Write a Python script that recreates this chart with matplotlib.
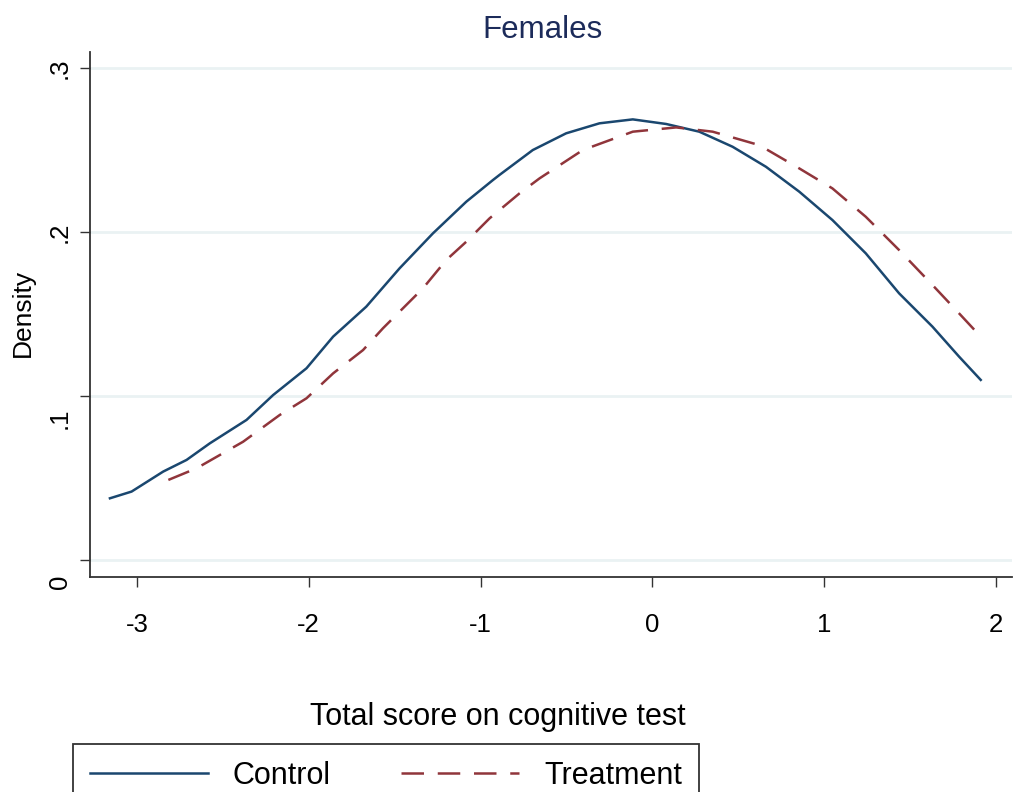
import matplotlib
matplotlib.use("Agg")
import matplotlib.pyplot as plt
import matplotlib.transforms as mtransforms

plt.rcParams["font.family"] = ["Liberation Sans", "DejaVu Sans"]

# Kernel density estimates
control_x = [-3.157, -3.031, -2.847, -2.711, -2.576, -2.362, -2.207, -2.013,
             -1.858, -1.665, -1.471, -1.277, -1.083, -0.928, -0.890, -0.696,
             -0.502, -0.308, -0.114, 0.080, 0.273, 0.467, 0.661, 0.855,
             1.048, 1.242, 1.436, 1.630, 1.785, 1.911]
control_y = [0.0376, 0.0417, 0.0539, 0.0610, 0.0711, 0.0854, 0.1006, 0.1169,
             0.1362, 0.1545, 0.1779, 0.1992, 0.2185, 0.2317, 0.2348, 0.2500,
             0.2602, 0.2663, 0.2687, 0.2659, 0.2612, 0.2520, 0.2398, 0.2246,
             0.2073, 0.1870, 0.1626, 0.1423, 0.1240, 0.1098]

treat_x = [-2.817, -2.653, -2.382, -2.169, -2.013, -1.858, -1.684, -1.568,
           -1.335, -1.200, -1.083, -0.948, -0.773, -0.657, -0.405, -0.114,
           0.138, 0.351, 0.622, 0.855, 1.048, 1.242, 1.436, 1.630, 1.785,
           1.911]
treat_y = [0.0488, 0.0559, 0.0721, 0.0884, 0.0986, 0.1138, 0.1280, 0.1413,
           0.1657, 0.1829, 0.1941, 0.2083, 0.2236, 0.2327, 0.2500, 0.2612,
           0.2638, 0.2612, 0.2530, 0.2388, 0.2266, 0.2093, 0.1890, 0.1677,
           0.1504, 0.1362]

x_ticks = [-3, -2, -1, 0, 1, 2]
y_ticks = [0, 0.1, 0.2, 0.3]
y_labels = ["0", ".1", ".2", ".3"]

navy = "#1a476f"
maroon = "#90353b"

fig = plt.figure(figsize=(10.14, 7.92), dpi=100)
ax = fig.add_axes([90 / 1014, 1 - 577 / 792, 922 / 1014, 525 / 792])

ax.plot(control_x, control_y, color=navy, lw=1.8, label="Control")
ax.plot(treat_x, treat_y, color=maroon, lw=1.8, dashes=(9, 5.5), label="Treatment")

ax.set_xlim(-3.273, 2.093)
ax.set_ylim(-0.0104, 0.3098)

ax.set_xticks(x_ticks)
ax.set_xticklabels([str(v) for v in x_ticks])
ax.set_yticks(y_ticks)
ax.set_yticklabels(y_labels, rotation=90, va="center")

ax.tick_params(axis="x", length=7, width=1, color="#333333", labelsize=18.5, pad=19)
ax.tick_params(axis="y", length=7, width=1, color="#333333", labelsize=18.5, pad=6)

# the two lowest y labels sit lower in the original
offset = mtransforms.ScaledTranslation(0, -22 / 100, fig.dpi_scale_trans)
for lab in ax.get_yticklabels()[:2]:
    lab.set_transform(lab.get_transform() + offset)

ax.grid(axis="y", color="#eaf2f3", lw=2)
ax.set_axisbelow(True)

for side in ["top", "right"]:
    ax.spines[side].set_visible(False)
for side in ["left", "bottom"]:
    ax.spines[side].set_color("#333333")
    ax.spines[side].set_linewidth(1.3)

ax.set_ylabel("Density", fontsize=19)
ax.yaxis.set_label_coords(-0.0597, 0.503)
ax.set_xlabel("Total score on cognitive test", fontsize=22)
ax.xaxis.set_label_coords(0.4425, -0.238)

ax.set_title("Females", fontsize=22.5, color="#1c2b5a", x=0.491, pad=10)

fig.legend(loc="upper left", bbox_to_anchor=(73 / 1014, 1 - 744 / 792),
           ncol=2, fontsize=22, handlelength=3.86, handletextpad=0.82,
           columnspacing=2.3, borderpad=0.55, borderaxespad=0,
           fancybox=False, framealpha=1, edgecolor="#333333")
fig.legends[0].get_frame().set_linewidth(1.3)

fig.savefig("out.png", dpi=100)
